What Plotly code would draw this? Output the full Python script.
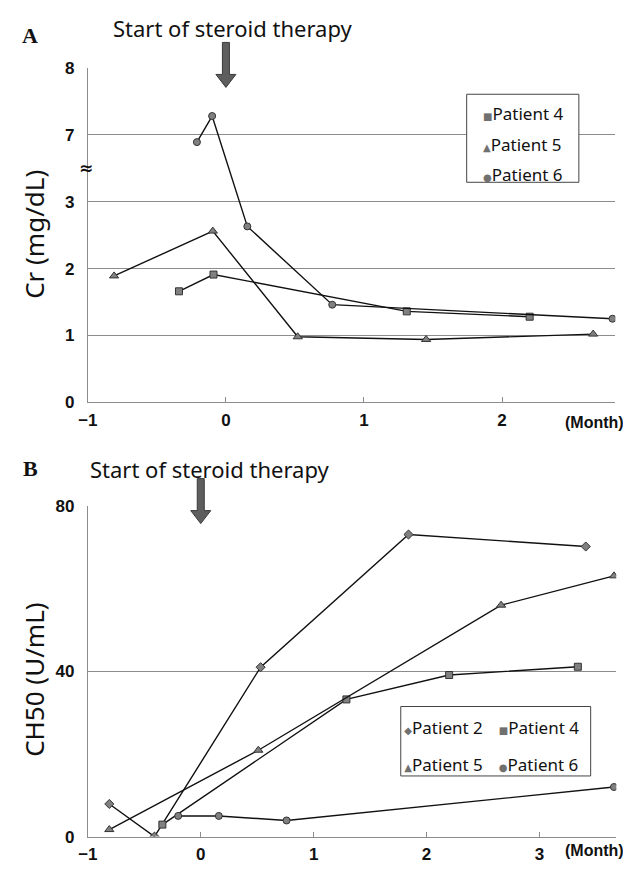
import plotly.graph_objects as go

# ---------------- data ----------------
# Panel A: Cr (mg/dL) vs months from start of steroid therapy
a_p4_x = [-0.34, -0.09, 1.31, 2.20]
a_p4_y = [1.66, 1.91, 1.36, 1.28]
a_p5_x = [-0.81, -0.095, 0.52, 1.45, 2.66]
a_p5_y = [1.89, 2.56, 0.98, 0.94, 1.02]
a_p6_x = [-0.21, -0.10, 0.155, 0.77, 2.80]
a_p6_y = [6.89, 7.28, 2.63, 1.46, 1.25]

# Panel B: CH50 (U/mL)
b_p2_x = [-0.81, -0.41, 0.53, 1.84, 3.41]
b_p2_y = [7.9, 0.0, 41.0, 73.1, 70.2]
b_p4_x = [-0.34, 1.29, 2.20, 3.34]
b_p4_y = [2.9, 33.2, 39.1, 41.1]
b_p5_x = [-0.81, 0.51, 2.66, 3.66]
b_p5_y = [1.7, 20.9, 56.0, 63.1]
b_p6_x = [-0.20, 0.16, 0.76, 3.66]
b_p6_y = [5.0, 5.0, 3.9, 12.0]

a_ytick_labels = ["0", "1", "2", "3", "7", "8"]
b_ytick_vals = [0, 40, 80]
a_xtick_vals = [-1, 0, 1, 2]
b_xtick_vals = [-1, 0, 1, 2, 3]

# broken Cr axis: 0-3 linear, then 7-8 placed directly above 3
def cr_axis(v):
    return [y if y <= 3 else y - 3 for y in v]

# page body has an 8px margin: figure fills the rest of the 631x873 window
OFF = 8
W, H = 631 - OFF, 873 - OFF
def px(x):
    return (x - OFF) / W
def py(y):
    return 1 - (y - OFF) / H

TICKFONT = dict(family="Liberation Sans, Arial, sans-serif", size=17, color="#111", weight="bold")
MONTHFONT = dict(family="Liberation Sans, Arial, sans-serif", size=16, color="#111", weight="bold")
TXTFONT = "Noto Sans, Open Sans, DejaVu Sans, sans-serif"
GRID = "#8c8c8c"
MK_FILL = "#808080"
MK_LINE = "#333333"

symbols = {"Patient 2": "diamond", "Patient 4": "square",
           "Patient 5": "triangle-up", "Patient 6": "circle"}
sizes = {"Patient 2": 7, "Patient 4": 7, "Patient 5": 8, "Patient 6": 7}
glyphs = {"Patient 2": "◆", "Patient 4": "■", "Patient 5": "▲", "Patient 6": "●"}

fig = go.Figure()

def add_series(name, x, y, xa, ya):
    fig.add_trace(go.Scatter(
        x=x, y=y, mode="lines+markers", name=name, showlegend=False,
        xaxis=xa, yaxis=ya,
        line=dict(color="#111", width=1.4),
        marker=dict(symbol=symbols[name], size=sizes[name], color=MK_FILL,
                    line=dict(color=MK_LINE, width=1)),
    ))

def add_legend_entry(name, legend, group):
    label = ('<span style="font-size:10px;color:#707070">%s</span>%s' % (glyphs[name], name))
    fig.add_trace(go.Scatter(
        x=[None], y=[None], mode="lines", name=label, legend=legend,
        legendgroup=group, xaxis="x", yaxis="y",
        line=dict(width=0, color="rgba(0,0,0,0)"),
    ))

# Panel A
add_series("Patient 4", a_p4_x, cr_axis(a_p4_y), "x", "y")
add_series("Patient 5", a_p5_x, cr_axis(a_p5_y), "x", "y")
add_series("Patient 6", a_p6_x, cr_axis(a_p6_y), "x", "y")
# Panel B
add_series("Patient 2", b_p2_x, b_p2_y, "x2", "y2")
add_series("Patient 4", b_p4_x, b_p4_y, "x2", "y2")
add_series("Patient 5", b_p5_x, b_p5_y, "x2", "y2")
add_series("Patient 6", b_p6_x, b_p6_y, "x2", "y2")

# legend entries
for i, n in enumerate(["Patient 4", "Patient 5", "Patient 6"]):
    add_legend_entry(n, "legend", "a%d" % i)
for i, n in enumerate(["Patient 2", "Patient 5"]):
    add_legend_entry(n, "legend2", "b%d" % i)
for i, n in enumerate(["Patient 4", "Patient 6"]):
    add_legend_entry(n, "legend3", "c%d" % i)

axis_common = dict(showline=True, linecolor=GRID, linewidth=1, zeroline=False,
                   tickfont=TICKFONT, mirror=False)

LEGFONT = dict(family=TXTFONT, size=17, color="#111")
fig.update_layout(
    width=W, height=H, margin=dict(l=0, r=0, t=0, b=0),
    paper_bgcolor="white", plot_bgcolor="white",
    xaxis=dict(domain=[px(79), px(615)], range=[-1, 2.82], anchor="y",
               tickvals=a_xtick_vals, ticktext=["−1", "0", "1", "2"],
               ticks="inside", ticklen=5, tickcolor=GRID, showgrid=False,
               ticklabelstandoff=2, **axis_common),
    yaxis=dict(domain=[py(402), py(60)], range=[0, 5], anchor="x",
               tickvals=list(range(len(a_ytick_labels))), ticktext=a_ytick_labels,
               showgrid=True, gridcolor=GRID, gridwidth=1, ticks="",
               ticklabelstandoff=9, **axis_common),
    xaxis2=dict(domain=[px(79), px(616)], range=[-1, 3.68], anchor="y2",
                tickvals=b_xtick_vals, ticktext=["−1", "0", "1", "2", "3"],
                ticks="inside", ticklen=5, tickcolor=GRID, showgrid=False,
                ticklabelstandoff=2, **axis_common),
    yaxis2=dict(domain=[py(846), py(508)], range=[0, 80], anchor="x2",
                tickvals=b_ytick_vals, showgrid=True, gridcolor=GRID, gridwidth=1,
                ticks="", ticklabelstandoff=9, **axis_common),
    legend=dict(x=px(440), y=py(89), xanchor="left", yanchor="top",
                borderwidth=0, bgcolor="rgba(0,0,0,0)", font=LEGFONT,
                tracegroupgap=5),
    legend2=dict(x=px(360), y=py(716), xanchor="left", yanchor="top",
                 borderwidth=0, bgcolor="rgba(0,0,0,0)", font=LEGFONT,
                 tracegroupgap=12),
    legend3=dict(x=px(456), y=py(716), xanchor="left", yanchor="top",
                 borderwidth=0, bgcolor="rgba(0,0,0,0)", font=LEGFONT,
                 tracegroupgap=12),
)

# legend boxes
fig.add_shape(type="rect", xref="paper", yref="paper",
              x0=px(464), x1=px(578), y0=py(177), y1=py(87),
              line=dict(color="#444", width=1), fillcolor="white", layer="above")
fig.add_shape(type="rect", xref="paper", yref="paper",
              x0=px(397), x1=px(590), y0=py(784), y1=py(713),
              line=dict(color="#444", width=1), fillcolor="white", layer="above")

# arrows marking start of steroid therapy (anchored at month 0)
def arrow(xref, tip_y):
    path = "M0,0 L-10,13 L-3.5,13 L-3.5,45 L3.5,45 L3.5,13 L10,13 Z"
    fig.add_shape(type="path", xref=xref, yref="paper", xsizemode="pixel", ysizemode="pixel",
                  xanchor=0, yanchor=tip_y, path=path,
                  fillcolor="#5e5e5e", line=dict(color="#3a3a3a", width=1))

arrow("x", py(80))
arrow("x2", py(526))

def note(text, x, y, font, angle=0, xanchor="center", yref="paper"):
    return dict(text=text, x=x, y=y, xref="paper", yref=yref, showarrow=False,
                xanchor=xanchor, yanchor="middle", textangle=angle, font=font)

SERIF = dict(family="Liberation Serif, DejaVu Serif, serif", size=22, color="#111")
ann = [
    note("Start of steroid therapy", px(226), py(19), dict(family=TXTFONT, size=22, color="#111")),
    note("Start of steroid therapy", px(203), py(470), dict(family=TXTFONT, size=22, color="#111")),
    note("<b>A</b>", px(20), py(27), SERIF),
    note("<b>B</b>", px(21), py(470), SERIF),
    note("Cr (mg/dL)", px(24), py(230), dict(family=TXTFONT, size=26, color="#111"), angle=-90),
    note("CH50 (U/mL)", px(24), py(686), dict(family=TXTFONT, size=26, color="#111"), angle=-90),
    note("(Month)", px(626), py(423), MONTHFONT, xanchor="right"),
    note("(Month)", px(626), py(860), MONTHFONT, xanchor="right"),
    note("≈", px(77), 3.5, dict(family="DejaVu Sans, sans-serif", size=17, color="#111", weight="bold"),
         yref="y"),
]
fig.update_layout(annotations=ann)

fig.write_html("out.html")
